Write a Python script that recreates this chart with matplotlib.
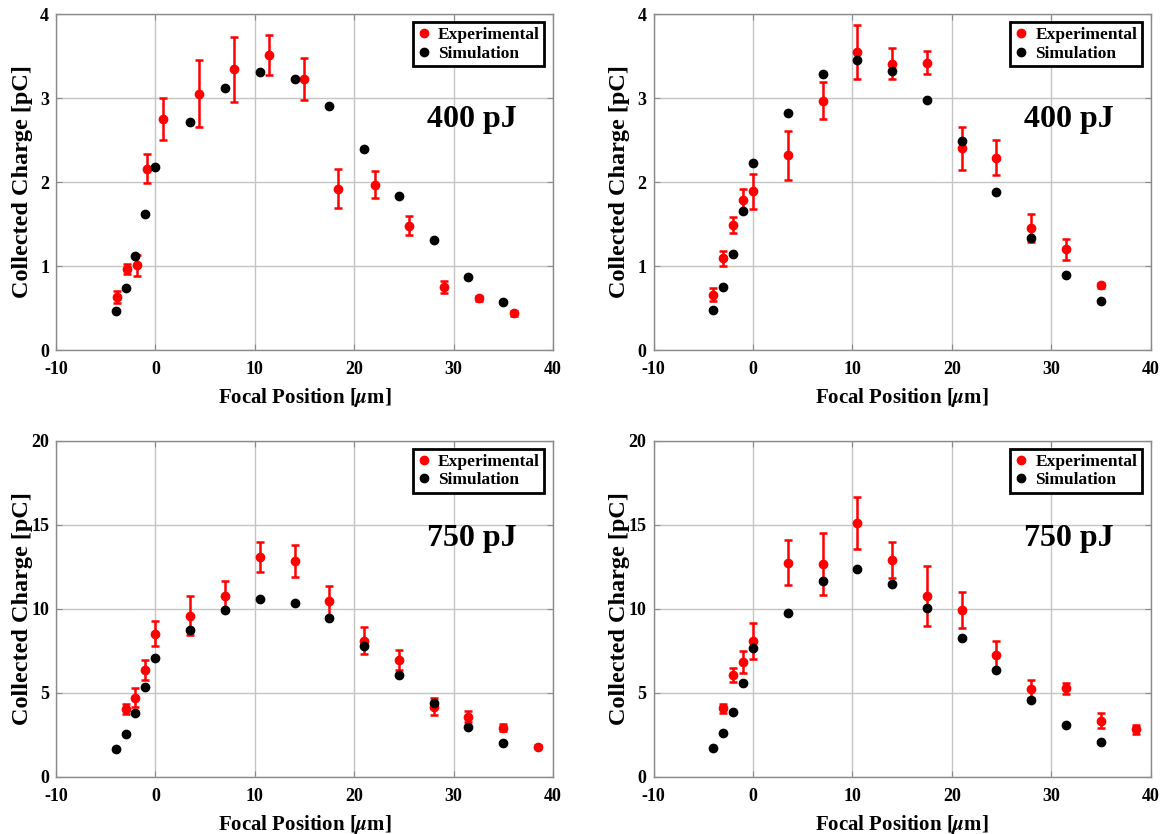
import matplotlib
matplotlib.use("Agg")
import matplotlib.pyplot as plt
from matplotlib.lines import Line2D

plt.rcParams["font.family"] = ["Liberation Serif", "DejaVu Serif"]
plt.rcParams["font.weight"] = "bold"
plt.rcParams["mathtext.fontset"] = "stix"
plt.rcParams["axes.unicode_minus"] = False

# --- Data ---------------------------------------------------------------
x_sim = [-4, -3, -2, -1, 0, 3.5, 7, 10.5, 14, 17.5, 21, 24.5, 28, 31.5, 35]

# 400 pJ, left panel
x_exp1 = [-3.9, -2.9, -1.8, -0.85, 0.8, 4.4, 7.9, 11.4, 14.95, 18.4, 22.05, 25.5, 29.0, 32.6, 36.1]
exp1 = [0.63, 0.97, 1.01, 2.16, 2.75, 3.05, 3.34, 3.51, 3.23, 1.92, 1.97, 1.48, 0.75, 0.615, 0.44]
err1 = [0.075, 0.06, 0.125, 0.175, 0.25, 0.40, 0.39, 0.24, 0.25, 0.235, 0.165, 0.11, 0.077, 0.03, 0.03]
sim1 = [0.47, 0.74, 1.12, 1.62, 2.18, 2.71, 3.12, 3.31, 3.23, 2.91, 2.39, 1.83, 1.31, 0.87, 0.57]

# 400 pJ, right panel
x_exp2 = [-4, -3, -2, -1, 0, 3.5, 7, 10.5, 14, 17.5, 21, 24.5, 28, 31.5, 35]
exp2 = [0.66, 1.09, 1.49, 1.79, 1.89, 2.32, 2.97, 3.55, 3.41, 3.42, 2.40, 2.29, 1.45, 1.20, 0.77]
err2 = [0.08, 0.09, 0.095, 0.13, 0.21, 0.29, 0.22, 0.32, 0.18, 0.14, 0.26, 0.21, 0.165, 0.125, 0.03]
sim2 = [0.48, 0.75, 1.14, 1.65, 2.23, 2.82, 3.28, 3.45, 3.32, 2.98, 2.49, 1.88, 1.33, 0.89, 0.58]

# 750 pJ, left panel
x_exp3 = [-3, -2, -1, 0, 3.5, 7, 10.5, 14, 17.5, 21, 24.5, 28, 31.5, 35, 38.5]
exp3 = [4.05, 4.70, 6.37, 8.51, 9.58, 10.77, 13.08, 12.84, 10.44, 8.10, 6.95, 4.17, 3.57, 2.92, 1.79]
err3 = [0.29, 0.57, 0.60, 0.74, 1.16, 0.89, 0.89, 0.95, 0.91, 0.81, 0.59, 0.52, 0.33, 0.2, 0.1]
sim3 = [1.65, 2.52, 3.77, 5.34, 7.07, 8.73, 9.94, 10.56, 10.36, 9.43, 7.80, 6.05, 4.40, 2.98, 1.99]

# 750 pJ, right panel
x_exp4 = [-3, -2, -1, 0, 3.5, 7, 10.5, 14, 17.5, 21, 24.5, 28, 31.5, 35, 38.5]
exp4 = [4.07, 6.05, 6.81, 8.10, 12.74, 12.64, 15.08, 12.90, 10.77, 9.92, 7.22, 5.24, 5.26, 3.33, 2.82]
err4 = [0.25, 0.44, 0.66, 1.07, 1.35, 1.84, 1.54, 1.09, 1.80, 1.07, 0.87, 0.53, 0.34, 0.46, 0.26]
sim4 = [1.69, 2.62, 3.85, 5.56, 7.66, 9.76, 11.67, 12.34, 11.49, 10.06, 8.24, 6.35, 4.57, 3.10, 2.05]

panels = [
    (x_exp1, exp1, err1, sim1, "400 pJ", 4, [0, 1, 2, 3, 4]),
    (x_exp2, exp2, err2, sim2, "400 pJ", 4, [0, 1, 2, 3, 4]),
    (x_exp3, exp3, err3, sim3, "750 pJ", 20, [0, 5, 10, 15, 20]),
    (x_exp4, exp4, err4, sim4, "750 pJ", 20, [0, 5, 10, 15, 20]),
]
x_ticks = [-10, 0, 10, 20, 30, 40]

# axes positions in figure fractions (left, bottom, width, height)
positions = [
    (0.0478, 0.5803, 0.4244, 0.4029),
    (0.5581, 0.5803, 0.4244, 0.4029),
    (0.0478, 0.0687, 0.4244, 0.4029),
    (0.5581, 0.0687, 0.4244, 0.4029),
]
label_y = [0.685, 0.685, 0.71, 0.71]

fig = plt.figure(figsize=(11.71, 8.34), dpi=100)

for pos, ly, (xe, ye, ee, ys, label, ymax, yt) in zip(positions, label_y, panels):
    ax = fig.add_axes(pos)
    ax.errorbar(xe, ye, yerr=ee, fmt="o", color="red", ms=6, elinewidth=1.8,
                capsize=3, capthick=1.8, zorder=3)
    ax.plot(x_sim, ys, "o", color="black", ms=6, zorder=4)

    ax.set_xlim(-10, 40)
    ax.set_ylim(0, ymax)
    ax.set_xticks(x_ticks)
    ax.set_yticks(yt)
    ax.grid(True, color="#c4c4c4", linewidth=1)
    ax.set_axisbelow(True)
    for s in ax.spines.values():
        s.set_color("#8a8a8a")
        s.set_linewidth(1)
    ax.tick_params(direction="in", length=4, color="#8a8a8a", labelsize=13,
                   top=True, right=True)
    ax.tick_params(axis="x", pad=8)
    ax.tick_params(axis="y", pad=5)
    for t in ax.get_xticklabels() + ax.get_yticklabels():
        t.set_fontweight("bold")

    ax.set_xlabel(r"Focal Position [$\mu$m]", fontsize=15, fontweight="bold")
    ax.set_ylabel("Collected Charge [pC]", fontsize=17.5, fontweight="bold")
    ax.xaxis.set_label_coords(0.5, -0.108)
    ax.yaxis.set_label_coords(-0.047, 0.5)

    ax.text(0.836, ly, label, transform=ax.transAxes, fontsize=23,
            fontweight="bold", ha="center", va="center")

    handles = [
        Line2D([], [], marker="o", ls="none", color="red", ms=6),
        Line2D([], [], marker="o", ls="none", color="black", ms=6),
    ]
    leg = ax.legend(handles, ["Experimental", "Simulation"], loc="upper right",
                    bbox_to_anchor=(0.982, 0.975), borderaxespad=0, fontsize=12.5,
                    handlelength=0.8, handletextpad=0.4, borderpad=0.25,
                    labelspacing=0.15, fancybox=False, framealpha=1)
    leg.get_frame().set_edgecolor("black")
    leg.get_frame().set_linewidth(2)
    for t in leg.get_texts():
        t.set_fontweight("bold")

fig.savefig("out.png", dpi=100)
